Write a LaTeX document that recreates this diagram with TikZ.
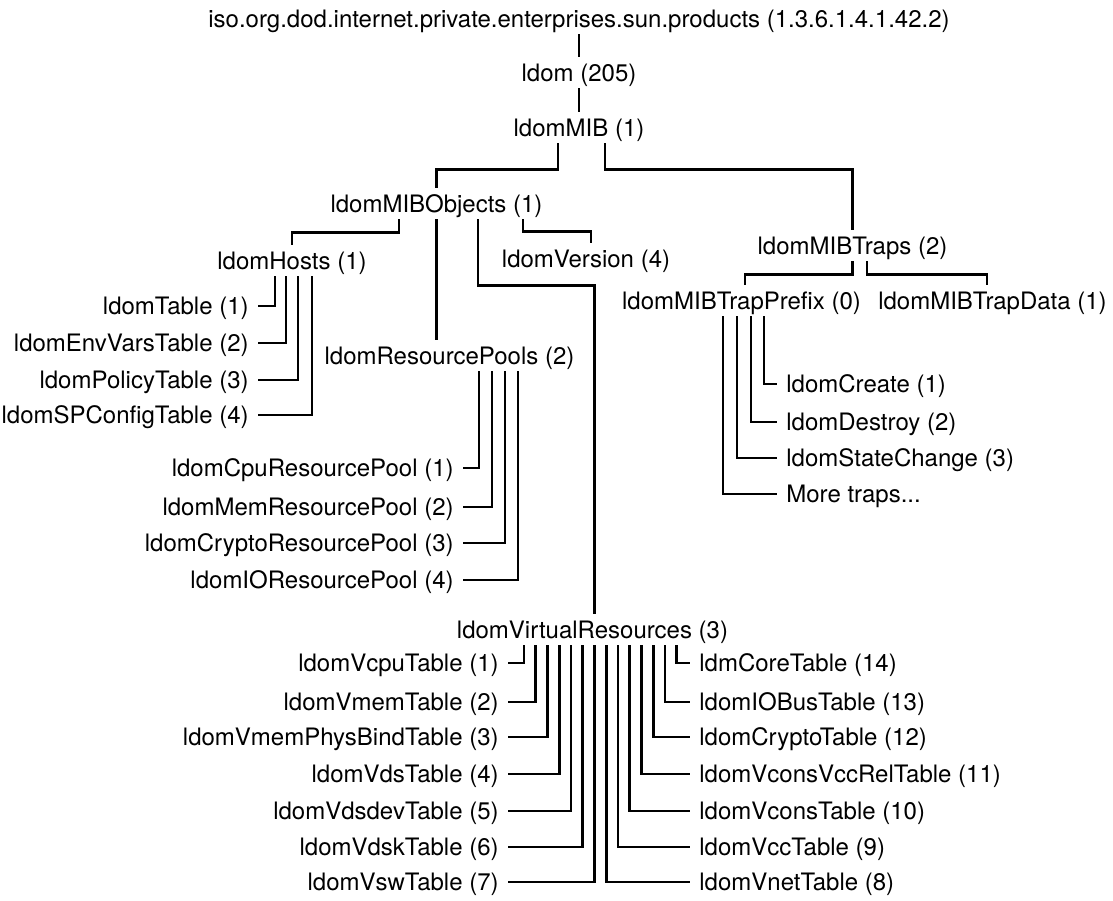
\documentclass[tikz,border=0pt]{standalone}
\usepackage{fontspec}
\setmainfont{TeX Gyre Heros}
\usetikzlibrary{positioning}

\begin{document}
\begin{tikzpicture}[
    x=1pt, y=-1pt, line width=2.8pt,
    oid/.style={inner xsep=8pt, inner ysep=3pt, text height=20pt, text depth=3pt, font=\fontsize{24}{28}\selectfont, anchor=base},
    leafl/.style={oid, anchor=base east},
    leafr/.style={oid, anchor=base west}
  ]
    \useasboundingbox (0,0) rectangle (1113,900);
    \node[oid] (root) at (579,27) {iso.org.dod.internet.private.enterprises.sun.products (1.3.6.1.4.1.42.2)};
    \node[oid] (ldom) at (579,81) {ldom (205)};
    \node[oid] (mib) at (579,136) {ldomMIB (1)};
    \node[oid] (objects) at (436.5,212) {ldomMIBObjects (1)};
    \node[oid] (traps) at (852.5,254) {ldomMIBTraps (2)};
    \node[oid] (hosts) at (292,269) {ldomHosts (1)};
    \node[oid] (version) at (586,267) {ldomVersion (4)};
    \node[oid] (pools) at (449.5,364) {ldomResourcePools (2)};
    \node[oid] (virtual) at (592.5,638) {ldomVirtualResources (3)};
    \node[oid] (prefix) at (741.5,309) {ldomMIBTrapPrefix (0)};
    \node[oid] (data) at (992.5,309) {ldomMIBTrapData (1)};
    % hosts
    \node[leafl] (htable) at (258,314.5) {ldomTable (1)};
    \node[leafl] (henv) at (258,351.5) {ldomEnvVarsTable (2)};
    \node[leafl] (hpolicy) at (258,388.5) {ldomPolicyTable (3)};
    \node[leafl] (hspconf) at (258,423.5) {ldomSPConfigTable (4)};
    % resource pools
    \node[leafl] (pcpu) at (463,476.5) {ldomCpuResourcePool (1)};
    \node[leafl] (pmem) at (463,515.5) {ldomMemResourcePool (2)};
    \node[leafl] (pcrypto) at (463,551.5) {ldomCryptoResourcePool (3)};
    \node[leafl] (pio) at (463,588.5) {ldomIOResourcePool (4)};
    % traps
    \node[leafr] (tcreate) at (777,392.5) {ldomCreate (1)};
    \node[leafr] (tdestroy) at (777,430.5) {ldomDestroy (2)};
    \node[leafr] (tstate) at (777,466.5) {ldomStateChange (3)};
    \node[leafr] (tmore) at (777,502.5) {More traps...};
    % virtual resources
    \node[leafl] (vcpu) at (508,671.5) {ldomVcpuTable (1)};
    \node[leafl] (vmem) at (508,710.5) {ldomVmemTable (2)};
    \node[leafl] (vphys) at (508,745.5) {ldomVmemPhysBindTable (3)};
    \node[leafl] (vds) at (508,782.5) {ldomVdsTable (4)};
    \node[leafl] (vdsdev) at (508,819.5) {ldomVdsdevTable (5)};
    \node[leafl] (vdsk) at (508,855.5) {ldomVdskTable (6)};
    \node[leafl] (vsw) at (508,890.5) {ldomVswTable (7)};
    \node[leafr] (vnet) at (690,890.5) {ldomVnetTable (8)};
    \node[leafr] (vcc) at (690,855.5) {ldomVccTable (9)};
    \node[leafr] (vcons) at (690,819.5) {ldomVconsTable (10)};
    \node[leafr] (vrel) at (690,782.5) {ldomVconsVccRelTable (11)};
    \node[leafr] (vcrypto) at (690,745.5) {ldomCryptoTable (12)};
    \node[leafr] (viobus) at (690,710.5) {ldomIOBusTable (13)};
    \node[leafr] (vcore) at (690,671.5) {ldmCoreTable (14)};

    \draw (root.south) -- (ldom.north);
    \draw (ldom.south) -- (mib.north);
    \draw ([xshift=-21pt]mib.south) -- ++(0,26) -| (objects.north);
    \draw ([xshift=26pt]mib.south) -- ++(0,26) -| (traps.north);
    \draw ([xshift=-37.5pt]objects.south) -- ++(0,13) -| (hosts.north);
    \draw (objects.south) -- (objects.south |- pools.north);
    \draw ([xshift=41.5pt]objects.south) -- ++(0,66) -| ([xshift=2pt]virtual.north);
    \draw ([xshift=86.5pt]objects.south) -- ++(0,12) -| ([xshift=5pt]version.north);
    \draw (traps.south) -- ++(0,13) -| ([xshift=3.5pt]prefix.north);
    \draw ([xshift=14.5pt]traps.south) -- ++(0,13) -| ([xshift=-5.5pt]data.north);

    \draw ([xshift=-17pt]hosts.south) |- (htable.east);
    \draw ([xshift=-6pt]hosts.south) |- (henv.east);
    \draw ([xshift=6pt]hosts.south) |- (hpolicy.east);
    \draw ([xshift=20pt]hosts.south) |- (hspconf.east);

    \draw ([xshift=29.5pt]pools.south) |- (pcpu.east);
    \draw ([xshift=42.5pt]pools.south) |- (pmem.east);
    \draw ([xshift=55.5pt]pools.south) |- (pcrypto.east);
    \draw ([xshift=68.5pt]pools.south) |- (pio.east);

    \draw ([xshift=22.5pt]prefix.south) |- (tcreate.west);
    \draw ([xshift=9.5pt]prefix.south) |- (tdestroy.west);
    \draw ([xshift=-4.5pt]prefix.south) |- (tstate.west);
    \draw ([xshift=-18.5pt]prefix.south) |- (tmore.west);

    \draw ([xshift=-68.5pt]virtual.south) |- (vcpu.east);
    \draw ([xshift=-56.75pt]virtual.south) |- (vmem.east);
    \draw ([xshift=-45pt]virtual.south) |- (vphys.east);
    \draw ([xshift=-33.25pt]virtual.south) |- (vds.east);
    \draw ([xshift=-21.5pt]virtual.south) |- (vdsdev.east);
    \draw ([xshift=-9.75pt]virtual.south) |- (vdsk.east);
    \draw ([xshift=2pt]virtual.south) |- (vsw.east);
    \draw ([xshift=13.75pt]virtual.south) |- (vnet.west);
    \draw ([xshift=25.5pt]virtual.south) |- (vcc.west);
    \draw ([xshift=37.25pt]virtual.south) |- (vcons.west);
    \draw ([xshift=49pt]virtual.south) |- (vrel.west);
    \draw ([xshift=60.75pt]virtual.south) |- (vcrypto.west);
    \draw ([xshift=72.5pt]virtual.south) |- (viobus.west);
    \draw ([xshift=84.25pt]virtual.south) |- (vcore.west);
  \end{tikzpicture}
\end{document}
